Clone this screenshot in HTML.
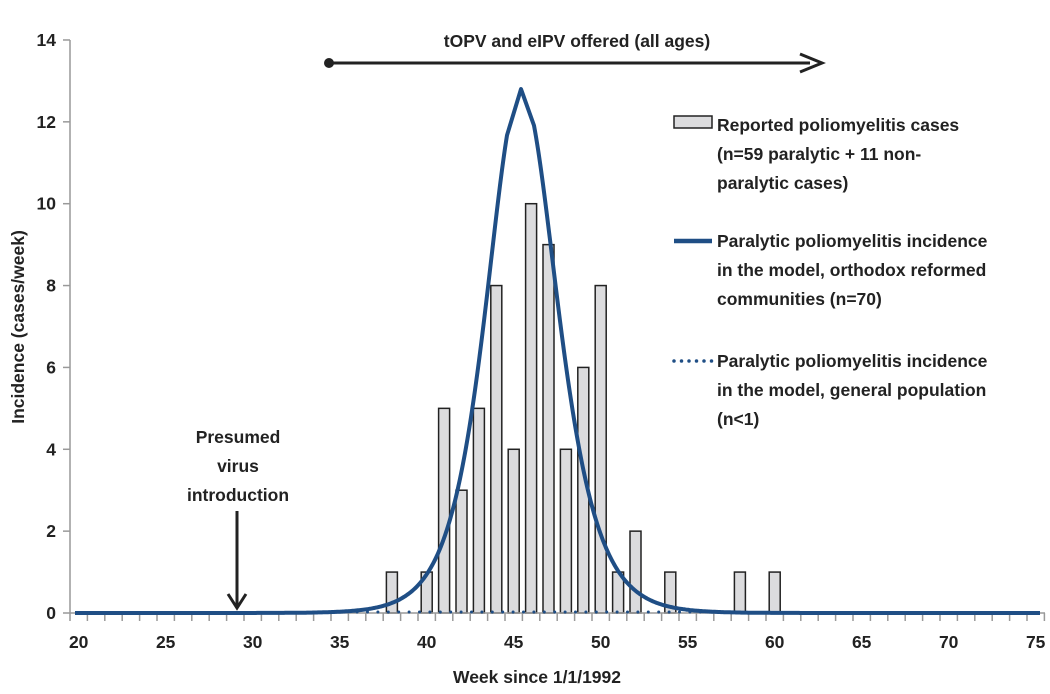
<!DOCTYPE html>
<html><head><meta charset="utf-8"><style>
body{margin:0;background:#fff;}
text{font-family:"Liberation Sans",sans-serif;font-weight:bold;fill:#222;}
</style></head><body>
<svg id="s" width="1050" height="689" xmlns="http://www.w3.org/2000/svg">
<g id="g"></g>
<text x="717" y="131" font-size="17.5">Reported poliomyelitis cases</text>
<text x="717" y="160" font-size="17.5">(n=59 paralytic + 11 non-</text>
<text x="717" y="189" font-size="17.5">paralytic cases)</text>
<rect x="674" y="116" width="38" height="12" fill="#dcdcde" stroke="#222" stroke-width="1.5"/>
<text x="717" y="247" font-size="17.5">Paralytic poliomyelitis incidence</text>
<text x="717" y="276" font-size="17.5">in the model, orthodox reformed</text>
<text x="717" y="305" font-size="17.5">communities (n=70)</text>
<line x1="674" y1="241" x2="712" y2="241" stroke="#1f4e85" stroke-width="4.5"/>
<text x="717" y="367" font-size="17.5">Paralytic poliomyelitis incidence</text>
<text x="717" y="396" font-size="17.5">in the model, general population</text>
<text x="717" y="425" font-size="17.5">(n&lt;1)</text>
<line x1="674" y1="361" x2="712" y2="361" stroke="#1f4e85" stroke-width="3.5" stroke-dasharray="0 7.5" stroke-linecap="round"/>
<text x="577" y="47" font-size="17.5" text-anchor="middle">tOPV and eIPV offered (all ages)</text>
<line x1="329" y1="63" x2="810" y2="63" stroke="#222" stroke-width="3"/>
<circle cx="329" cy="63" r="5" fill="#222"/>
<polyline points="800,54 822,63 800,72" fill="none" stroke="#222" stroke-width="3"/>
<text x="238" y="443" font-size="17.5" text-anchor="middle">Presumed</text>
<text x="238" y="472" font-size="17.5" text-anchor="middle">virus</text>
<text x="238" y="501" font-size="17.5" text-anchor="middle">introduction</text>
<line x1="237" y1="511" x2="237" y2="606" stroke="#222" stroke-width="3"/>
<polyline points="228,594 237,608 246,594" fill="none" stroke="#222" stroke-width="3"/>
<text x="537" y="683" font-size="17.5" text-anchor="middle">Week since 1/1/1992</text>
<text transform="translate(24,327) rotate(-90)" font-size="17.5" text-anchor="middle">Incidence (cases/week)</text>
</svg>
<script>
var g=document.getElementById('g'),h='';
var X0=70,W=17.4,Y0=613,U=40.93;
function cx(w){return X0+(w-20+0.5)*W;}
function cy(v){return Y0-v*U;}
h+='<line x1="70" y1="40" x2="70" y2="613" stroke="#999" stroke-width="1.5"/>';
for(var i=0;i<=14;i+=2){var y=cy(i);h+='<line x1="63" y1="'+y+'" x2="70" y2="'+y+'" stroke="#999" stroke-width="1.5"/><text x="56" y="'+(y+6)+'" font-size="17.5" text-anchor="end">'+i+'</text>';}
for(var k=0;k<=56;k++){var x=X0+k*W;h+='<line x1="'+x+'" y1="613" x2="'+x+'" y2="621" stroke="#999" stroke-width="1.5"/>';}
for(var w=20;w<=75;w+=5){h+='<text x="'+cx(w)+'" y="648" font-size="17.5" text-anchor="middle">'+w+'</text>';}
var bars={38:1,40:1,41:5,42:3,43:5,44:8,45:4,46:10,47:9,48:4,49:6,50:8,51:1,52:2,54:1,58:1,60:1};
for(var b in bars){var x=cx(+b)-5.5,y=cy(bars[b]);h+='<rect x="'+x+'" y="'+y+'" width="11" height="'+(Y0-y)+'" fill="#dcdcde" stroke="#222" stroke-width="1.5"/>';}
h+='<line x1="70" y1="613" x2="1045" y2="613" stroke="#999" stroke-width="1.5"/>';
var C=521;
function f(x){var s=x<C?40.8:43;var c=Math.cosh((x-C)/s);return 12.8/Math.pow(c,1.6);}
var p='';
for(var x=75;x<=1040;x+=1){
  if(x>C-14&&x<C+13) continue;
  if(x===C+13){p+='L'+(C-14)+','+cy(f(C-14)).toFixed(1)+'L'+C+','+cy(12.8)+'L'+x+','+cy(f(x)).toFixed(1);continue;}
  p+=(p?'L':'M')+x+','+cy(f(x)).toFixed(1);
}
h+='<path d="'+p+'" fill="none" stroke="#1f4e85" stroke-width="4" stroke-linejoin="round"/>';
h+='<line x1="'+cx(36)+'" y1="612" x2="'+cx(56)+'" y2="612" stroke="#1f4e85" stroke-width="3" stroke-dasharray="0 10.4" stroke-linecap="round"/>';
g.innerHTML=h;
</script>
</body></html>
